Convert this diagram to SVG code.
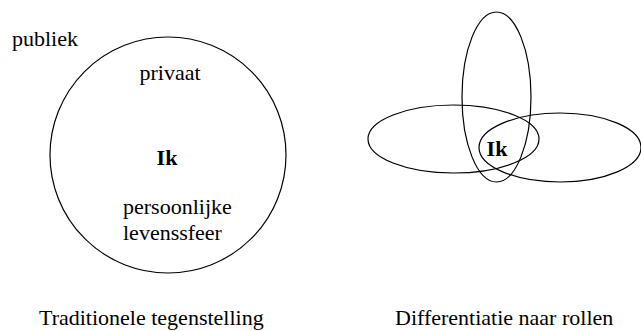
<svg xmlns="http://www.w3.org/2000/svg" width="641" height="331" viewBox="0 0 641 331">
<style>
.t{font-family:"Liberation Serif","Times New Roman",Times,serif;font-size:22px;fill:#000}
.b{font-weight:bold}
.s{fill:none;stroke:#000;stroke-width:1.2}
</style>
<rect width="641" height="331" fill="#fff"/>
<g id="traditioneel">
<circle class="s" cx="168" cy="155" r="118"/>
<text class="t" x="12" y="46" font-family="Times New Roman">publiek</text>
<text class="t" x="170" y="80" text-anchor="middle" font-family="Times New Roman">privaat</text>
<text class="t b" x="167" y="165" text-anchor="middle" font-family="Times New Roman">Ik</text>
<text class="t" x="123" y="214" font-family="Times New Roman">persoonlijke</text>
<text class="t" x="123" y="240" font-family="Times New Roman">levenssfeer</text>
<text class="t" x="39" y="325" font-family="Times New Roman">Traditionele tegenstelling</text>
</g>
<g id="differentiatie">
<ellipse class="s" cx="496.5" cy="97" rx="34.5" ry="85"/>
<ellipse class="s" cx="453.5" cy="139" rx="85.5" ry="34"/>
<ellipse class="s" cx="560" cy="147.5" rx="81" ry="34.5"/>
<text class="t b" x="497" y="156" text-anchor="middle" font-family="Times New Roman">Ik</text>
<text class="t" x="395" y="325" font-family="Times New Roman">Differentiatie naar rollen</text>
</g>
</svg>
